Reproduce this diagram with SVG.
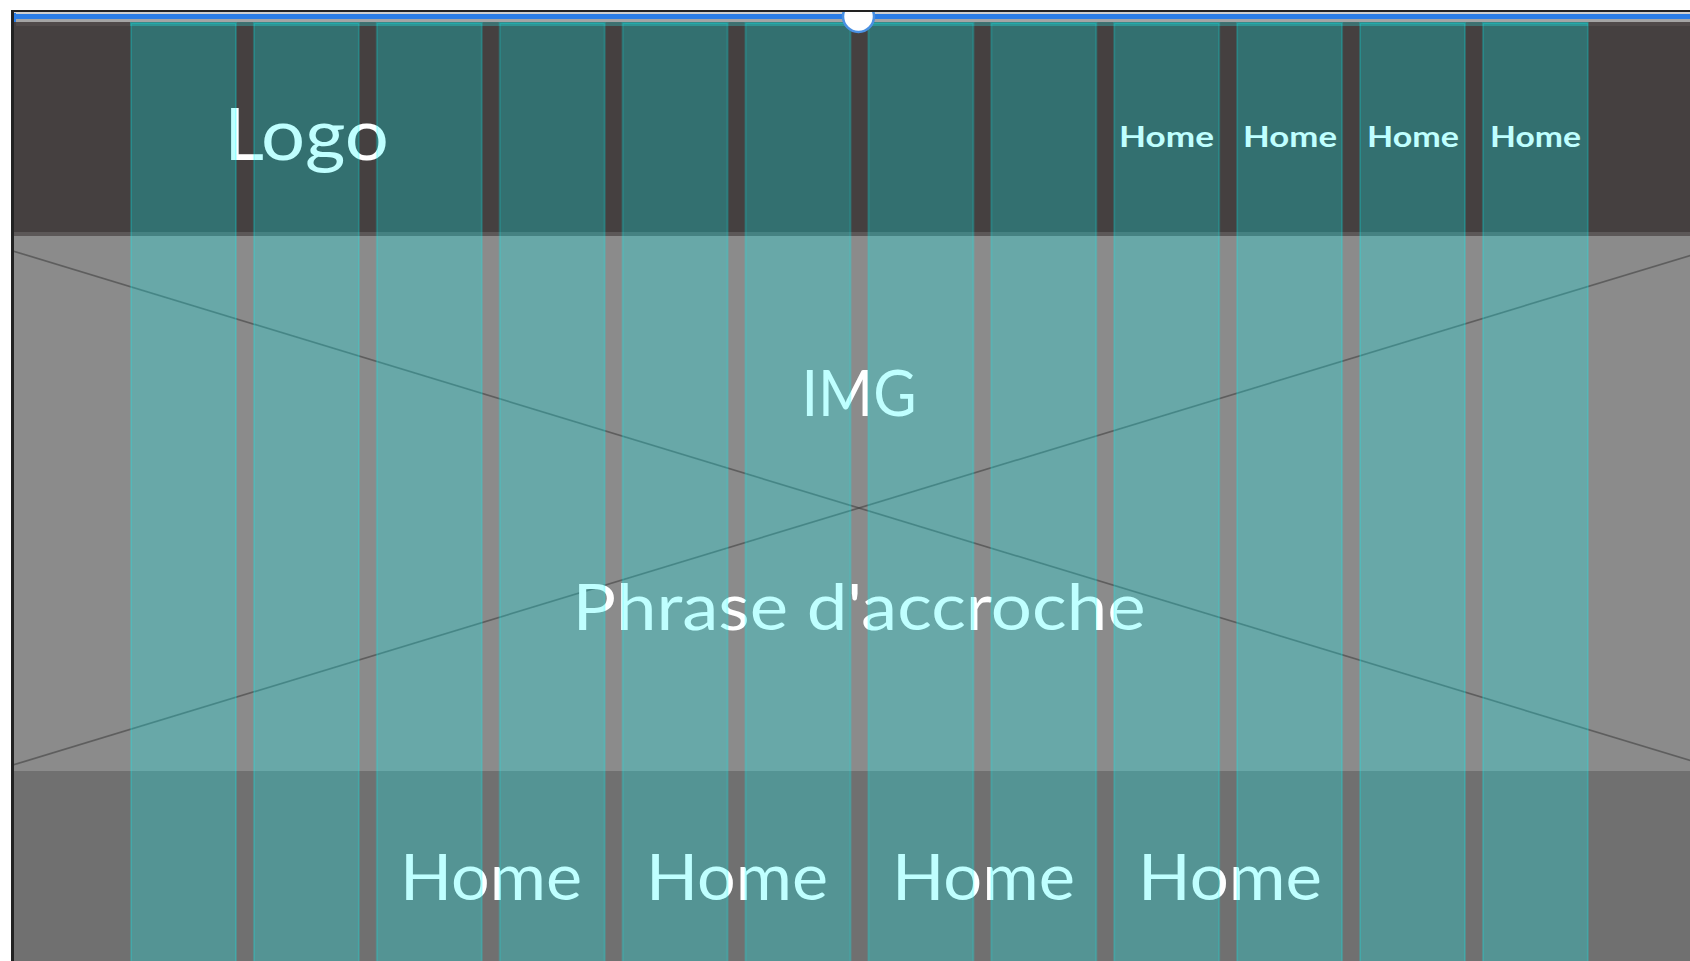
<svg xmlns="http://www.w3.org/2000/svg" width="1690" height="961" viewBox="0 0 1690 961">
  <style>
    .t { font-family: "Lato", "Liberation Sans", sans-serif; fill: #ffffff; }
    .col { fill: #00ffff; fill-opacity: 0.25; stroke: #00ffff; stroke-opacity: 0.2; stroke-width: 2; }
    .xline { stroke: #3a3a3a; stroke-opacity: 0.55; stroke-width: 1.7; fill: none; }
  </style>
  <defs>
    <clipPath id="imgclip"><rect x="14" y="236" width="1676" height="535"/></clipPath>
    <clipPath id="handleclip"><rect x="830" y="12" width="60" height="30"/></clipPath>
  </defs>
  <rect x="0" y="0" width="1690" height="961" fill="#ffffff"/>

  <g id="frame">
    <rect x="11" y="10" width="1679" height="951" fill="#222222"/>
    <rect x="14" y="12" width="1676" height="2" fill="#cfcfcf"/>
    <rect x="14" y="14" width="1676" height="5" fill="#2b7de6"/>
    <rect x="14" y="19" width="1676" height="3" fill="#a4a4a4"/>
    <rect x="14" y="13" width="2" height="12" fill="#2b7de6"/>
  </g>

  <g id="header">
    <rect x="14" y="22" width="1676" height="210" fill="#454040"/>
    <rect x="16" y="22" width="1674" height="4" fill="#504a4a"/>
    <rect x="14" y="232" width="1676" height="4" fill="#5c5858"/>
    <text class="t" x="224" y="160" font-size="72" textLength="165" lengthAdjust="spacingAndGlyphs">Logo</text>
    <text class="t" x="1119" y="147" font-size="28" font-weight="bold" textLength="95" lengthAdjust="spacingAndGlyphs">Home</text>
    <text class="t" x="1243" y="147" font-size="28" font-weight="bold" textLength="94" lengthAdjust="spacingAndGlyphs">Home</text>
    <text class="t" x="1367" y="147" font-size="28" font-weight="bold" textLength="92" lengthAdjust="spacingAndGlyphs">Home</text>
    <text class="t" x="1490" y="147" font-size="28" font-weight="bold" textLength="91" lengthAdjust="spacingAndGlyphs">Home</text>
  </g>

  <g id="image">
    <rect x="14" y="236" width="1676" height="535" fill="#8b8b8b"/>
    <g clip-path="url(#imgclip)">
      <line class="xline" x1="13" y1="251" x2="1705" y2="765"/>
      <line class="xline" x1="13" y1="765" x2="1705" y2="251"/>
    </g>
    <text class="t" x="859" y="416" font-size="64" text-anchor="middle" textLength="115" lengthAdjust="spacingAndGlyphs">IMG</text>
    <text class="t" x="859" y="630" font-size="64" text-anchor="middle" textLength="573" lengthAdjust="spacingAndGlyphs">Phrase d'accroche</text>
  </g>

  <g id="footer">
    <rect x="14" y="771" width="1676" height="190" fill="#707070"/>
    <text class="t" x="400" y="900" font-size="63" textLength="182" lengthAdjust="spacingAndGlyphs">Home</text>
    <text class="t" x="646" y="900" font-size="63" textLength="182" lengthAdjust="spacingAndGlyphs">Home</text>
    <text class="t" x="892" y="900" font-size="63" textLength="183" lengthAdjust="spacingAndGlyphs">Home</text>
    <text class="t" x="1138" y="900" font-size="63" textLength="184" lengthAdjust="spacingAndGlyphs">Home</text>
  </g>

  <g id="grid">
    <rect x="130" y="22" width="1458" height="4" fill="#00ffff" fill-opacity="0.22"/>
    <rect class="col" x="131" y="23" width="105" height="950"/>
    <rect class="col" x="253.9" y="23" width="105" height="950"/>
    <rect class="col" x="376.8" y="23" width="105" height="950"/>
    <rect class="col" x="499.7" y="23" width="105" height="950"/>
    <rect class="col" x="622.6" y="23" width="105" height="950"/>
    <rect class="col" x="745.5" y="23" width="105" height="950"/>
    <rect class="col" x="868.4" y="23" width="105" height="950"/>
    <rect class="col" x="991.3" y="23" width="105" height="950"/>
    <rect class="col" x="1114.2" y="23" width="105" height="950"/>
    <rect class="col" x="1237.1" y="23" width="105" height="950"/>
    <rect class="col" x="1360" y="23" width="105" height="950"/>
    <rect class="col" x="1482.9" y="23" width="105" height="950"/>
  </g>

  <g id="handle" clip-path="url(#handleclip)">
    <circle cx="858.5" cy="16.5" r="15.5" fill="#ffffff" stroke="#4a90e2" stroke-width="2.5"/>
  </g>
</svg>
